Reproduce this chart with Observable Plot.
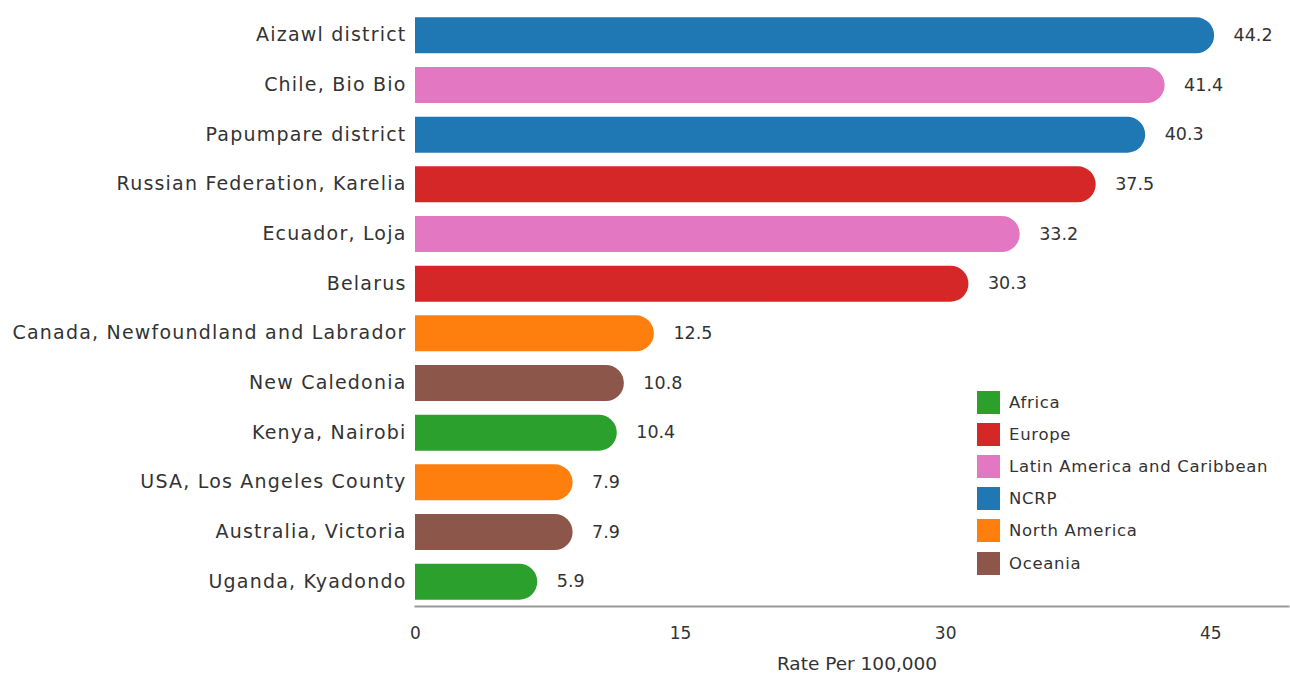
<!DOCTYPE html>
<html>
<head>
<meta charset="utf-8">
<script src="https://cdn.jsdelivr.net/npm/d3@7"></script>
<script src="https://cdn.jsdelivr.net/npm/@observablehq/plot@0.6"></script>
<style>
  html, body { margin: 0; padding: 0; background: #fff; }
  #wrap { position: relative; width: 1290px; height: 680px; font-family: "DejaVu Sans", sans-serif; }
  #legend { position: absolute; left: 977px; top: 386px; font-size: 16.5px; letter-spacing: 0.7px; color: #333; }
  .item { display: flex; align-items: center; height: 32.2px; }
  .sw { width: 23px; height: 23px; margin-right: 9px; }
  svg g[aria-label^="y-axis"] text { font-size: 19px; letter-spacing: 1.2px; }
</style>
</head>
<body>
<div id="wrap"><div id="legend"></div></div>
<script>
const regions = ["Aizawl district", "Chile, Bio Bio", "Papumpare district", "Russian Federation, Karelia", "Ecuador, Loja", "Belarus", "Canada, Newfoundland and Labrador", "New Caledonia", "Kenya, Nairobi", "USA, Los Angeles County", "Australia, Victoria", "Uganda, Kyadondo"];
const rates = [44.2, 41.4, 40.3, 37.5, 33.2, 30.3, 12.5, 10.8, 10.4, 7.9, 7.9, 5.9];
const groups = ["NCRP", "Latin America and Caribbean", "NCRP", "Europe", "Latin America and Caribbean", "Europe", "North America", "Oceania", "Africa", "North America", "Oceania", "Africa"];
const legendGroups = ["Africa", "Europe", "Latin America and Caribbean", "NCRP", "North America", "Oceania"];
const groupColors = ["#2ca02c", "#d62728", "#e377c2", "#1f77b4", "#ff7f0e", "#8c564b"];
const xTicks = [0, 15, 30, 45];
const xTitle = "Rate Per 100,000";

const data = regions.map((r, i) => ({region: r, rate: rates[i], group: groups[i]}));

const chart = Plot.plot({
  width: 1290,
  height: 680,
  marginLeft: 415,
  marginRight: 2,
  marginTop: 10,
  marginBottom: 74,
  style: {fontFamily: "'DejaVu Sans', sans-serif", fontSize: "17px", color: "#333", background: "#fff"},
  x: {domain: [0, 49.4], ticks: xTicks, tickSize: 0, tickPadding: 20, label: null},
  y: {domain: regions, paddingInner: 0.28, paddingOuter: 0.12, round: false, tickSize: 0, tickPadding: 9, label: null},
  color: {domain: legendGroups, range: groupColors},
  marks: [
    Plot.frame({anchor: "bottom", stroke: "#999", strokeWidth: 2}),
    Plot.ruleY(data, {y: "region", x1: 0, x2: "rate", stroke: "group", strokeWidth: 36, strokeLinecap: "round", clip: true}),
    Plot.text(data, {y: "region", x: "rate", text: d => d.rate.toFixed(1), textAnchor: "start", dx: 37, fill: "#333", fontSize: 17.5}),
    Plot.text([xTitle], {frameAnchor: "bottom", dx: 5, dy: 63, text: d => d, fill: "#333", fontSize: 18.5})
  ]
});
document.getElementById("wrap").prepend(chart);

const color = chart.scale("color");
const legend = d3.select("#legend");
legendGroups.forEach(g => {
  const it = legend.append("div").attr("class", "item");
  it.append("div").attr("class", "sw").style("background", color.apply(g));
  it.append("span").text(g);
});
</script>
</body>
</html>
